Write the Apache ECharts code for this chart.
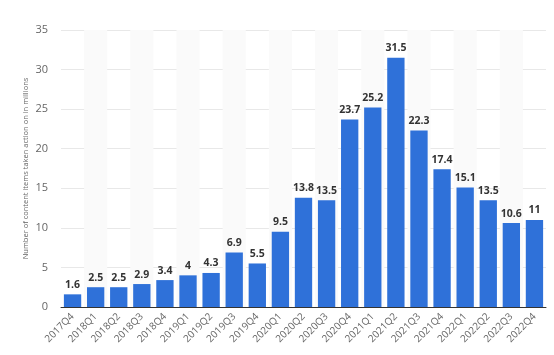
<!DOCTYPE html>
<html><head><meta charset="utf-8">
<script src="https://cdn.jsdelivr.net/npm/echarts@6/dist/echarts.min.js"></script>
<style>html,body{margin:0;padding:0;background:#fff}#c{width:554px;height:355px}</style>
</head><body><div id="c"></div>
<script>
const quarters = ['2017Q4','2018Q1','2018Q2','2018Q3','2018Q4','2019Q1','2019Q2','2019Q3','2019Q4','2020Q1','2020Q2','2020Q3','2020Q4','2021Q1','2021Q2','2021Q3','2021Q4','2022Q1','2022Q2','2022Q3','2022Q4'];
const values = [1.6,2.5,2.5,2.9,3.4,4,4.3,6.9,5.5,9.5,13.8,13.5,23.7,25.2,31.5,22.3,17.4,15.1,13.5,10.6,11];
const yTicks = [0,5,10,15,20,25,30,35];
const chart = echarts.init(document.getElementById('c'));
chart.setOption({
  animation:false,
  grid:{left:61,right:8,top:30,bottom:48},
  xAxis:{type:'category',data:quarters,
    axisLine:{lineStyle:{color:'#333',width:1}},
    axisTick:{show:false},
    axisLabel:{rotate:45,color:'#666',fontSize:10,fontFamily:'Open Sans',margin:8,interval:0},
    splitArea:{show:true,areaStyle:{color:['rgba(0,0,0,0)','#fafafa']}}
  },
  yAxis:{type:'value',min:yTicks[0],max:yTicks[yTicks.length-1],interval:5,
    name:'Number of content items taken action on in millions',nameLocation:'middle',nameGap:35,
    nameMoveOverlap:false,
    nameTextStyle:{color:'#666',fontSize:7.5,fontFamily:'Open Sans',verticalAlign:'middle'},
    axisLine:{show:false},axisTick:{show:false},
    axisLabel:{color:'#666',fontSize:11,fontFamily:'Open Sans',margin:13},
    splitLine:{lineStyle:{color:'#e8e8e8',width:1}}
  },
  series:[{type:'bar',data:values,barWidth:'75%',
    itemStyle:{color:'#2f71d9'},
    label:{show:true,position:'top',color:'#333',fontSize:10.5,fontWeight:'bold',fontFamily:'Open Sans',distance:4}
  }]
});
</script>
</body></html>
